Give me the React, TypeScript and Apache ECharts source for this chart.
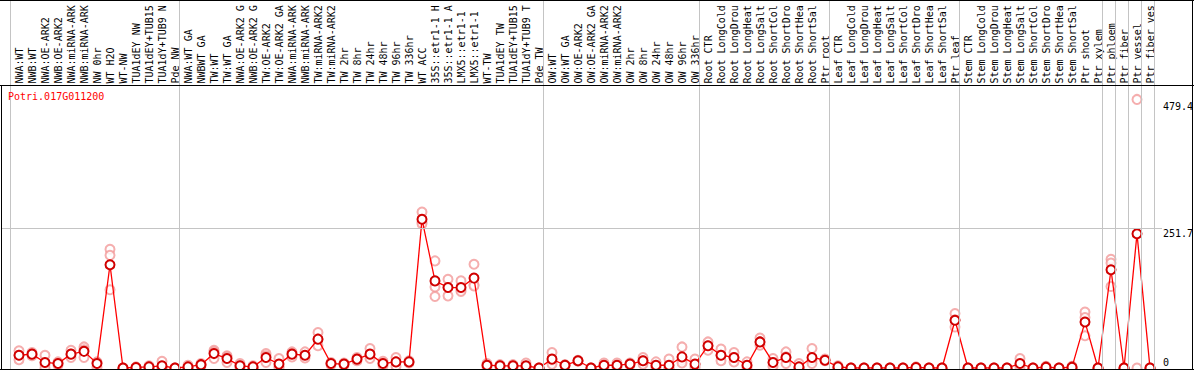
import React, { useEffect, useRef } from 'react';
import * as echarts from 'echarts';

const geneId = 'Potri.017G011200';

const categories = [
  'NWA:WT', 'NWB:WT', 'NWA:OE-ARK2', 'NWB:OE-ARK2', 'NWA:miRNA-ARK2', 'NWB:miRNA-ARK2', 'NW 0hr', 'WT H2O', 'WT-NW', 'TUA1dEY NW', 'TUA1dEY+TUB15 NW', 'TUA1dY+TUB9 NW', 'Pde NW',
  'NWA:WT GA', 'NWBWT GA', 'TW:WT', 'TW:WT GA', 'NWA:OE-ARK2 GA', 'NWB:OE-ARK2 GA', 'TW:OE-ARK2', 'TW:OE-ARK2 GA', 'NWA:miRNA-ARK2', 'NWB:miRNA-ARK2', 'TW:miRNA-ARK2', 'TW:miRNA-ARK2', 'TW 2hr', 'TW 8hr', 'TW 24hr', 'TW 48hr', 'TW 96hr', 'TW 336hr', 'WT ACC', '35S::etr1-1 H2O', '35S::etr1-1 ACC', 'LMX5::etr1-1 H2O', 'LMX5::etr1-1 ACC', 'WT-TW', 'TUA1dEY TW', 'TUA1dEY+TUB15 TW', 'TUA1dY+TUB9 TW', 'Pde TW',
  'OW:WT', 'OW:WT GA', 'OW:OE-ARK2', 'OW:OE-ARK2 GA', 'OW:miRNA-ARK2', 'OW:miRNA-ARK2', 'OW 2hr', 'OW 8hr', 'OW 24hr', 'OW 48hr', 'OW 96hr', 'OW 336hr',
  'Root CTR', 'Root LongCold', 'Root LongDrought', 'Root LongHeat', 'Root LongSalt', 'Root ShortCold', 'Root ShortDrought', 'Root ShortHeat', 'Root ShortSalt', 'Ptr root',
  'Leaf CTR', 'Leaf LongCold', 'Leaf LongDrought', 'Leaf LongHeat', 'Leaf LongSalt', 'Leaf ShortCold', 'Leaf ShortDrought', 'Leaf ShortHeat', 'Leaf ShortSalt', 'Ptr leaf',
  'Stem CTR', 'Stem LongCold', 'Stem LongDrought', 'Stem LongHeat', 'Stem LongSalt', 'Stem ShortCold', 'Stem ShortDrought', 'Stem ShortHeat', 'Stem ShortSalt', 'Ptr shoot', 'Ptr xylem',
  'Ptr phloem', 'Ptr fiber', 'Ptr vessel', 'Ptr fiber vessel',
];

// number of samples in each experiment block (separated by grey lines)
const groupSizes = [13, 28, 12, 10, 10, 11, 1, 1, 1, 1];

const means = [
  23, 25, 10, 8, 25, 30, 8, 186, 0, 1, 2, 4, 0,
  2, 6, 26, 17, 4, 2, 19, 7, 25, 23, 52, 8, 7, 16, 25, 8, 11, 11, 268, 157, 145, 145, 162, 5, 4, 4, 4, 0,
  16, 5, 13, 0, 5, 5, 7, 13, 5, 5, 20, 7,
  40, 23, 19, 5, 47, 10, 19, 2, 19, 14,
  2, 0, 0, 0, 0, 0, 1, 0, 0, 86,
  0, 0, 0, 0, 8, 0, 1.5, 0, 1.5, 83, 0,
  177, 0, 242, 0,
];

const rep1 = [
  31, 28, 23, 11, 32, 38, 11, 214, 0, 2, 4, 12, 0,
  5, 8, 32, 22, 8, 4, 26, 17, 29, 29, 64, 10, 9, 19, 35, 12, 19, 13, 281, 193, 160, 157, 187, 8, 6, 6, 9, 0,
  28, 6, 14, 0, 9, 9, 9, 19, 11, 16, 38, 16,
  47, 34, 28, 11, 54, 17, 29, 8, 35, 16,
  4, 0, 0, 0, 0, 0, 2, 0, 0, 98,
  0, 0, 0, 0, 17, 0, 3, 0, 3, 101, 0,
  196, 0, 484, 0,
];

const rep2 = [
  23, 25, 6, 8, 25, 33, 10, 203, 0, 1, 2, 0, 0,
  1, 6, 29, 20, 4, 2, 22, 3, 26, 22, 52, 8, 7, 16, 23, 8, 11, 11, 263, 146, 145, 141, 150, 5, 4, 4, 3, 0,
  13, 5, 13, 0, 4, 4, 7, 13, 3, 0, 14, 4,
  40, 23, 19, 4, 47, 10, 20, 0, 14, 14,
  2, 0, 0, 0, 0, 0, 1, 0, 0, 87,
  0, 0, 0, 0, 6, 0, 1, 0, 1, 91, 0,
  189, 0, 0, 0,
];

const rep3 = [
  15, 22, 0, 5, 19, 19, 2, 141, 0, 0, 0, 0, 0,
  0, 4, 17, 10, 0, 0, 10, 1, 20, 18, 40, 6, 5, 13, 17, 4, 3, 9, 260, 129, 130, 138, 148, 2, 2, 2, 0, 0,
  7, 4, 12, 0, 2, 2, 5, 7, 1, 0, 9, 1,
  32, 13, 11, 1, 41, 3, 8, 0, 8, 13,
  1, 0, 0, 0, 0, 0, 0, 0, 0, 74,
  0, 0, 0, 0, 2, 0, 0, 0, 0, 58, 0,
  147, 0, null, 0,
];

const yTickValues = [0, 251.7, 479.4];
const refLineValue = 251.7;
const yMax = 510;

const MONO = 'DejaVu Sans Mono';

export default function App() {
  const ref = useRef<HTMLDivElement>(null);

  useEffect(() => {
    if (!ref.current) return;
    const chart = echarts.init(ref.current, null, { renderer: 'svg' });

    const boundaries: number[] = [0];
    groupSizes.forEach((s) => boundaries.push(boundaries[boundaries.length - 1] + s));

    const repData: number[][] = [];
    [rep1, rep2, rep3].forEach((r) =>
      r.forEach((v, i) => {
        if (v !== null && v !== undefined) repData.push([i, v as number]);
      })
    );

    chart.setOption({
      animation: false,
      backgroundColor: '#ffffff',
      title: {
        text: geneId,
        left: 8,
        top: 91,
        padding: 0,
        textStyle: { color: '#ff0000', fontFamily: MONO, fontSize: 10, fontWeight: 'normal' },
      },
      grid: [
        { left: 12.5, right: 37.5, top: 85, bottom: 2, containLabel: false, outerBoundsMode: 'none' },
        { left: 10, right: 40, top: 0, bottom: 1, containLabel: false, outerBoundsMode: 'none' },
        { left: 1, right: 32, top: 85, bottom: 2, containLabel: false, outerBoundsMode: 'none' },
      ],
      xAxis: [
        {
          type: 'category',
          gridIndex: 0,
          data: categories,
          position: 'top',
          boundaryGap: true,
          axisLine: { show: false },
          axisTick: { show: false },
          splitLine: { show: false },
          axisLabel: {
            interval: 0,
            rotate: 90,
            margin: 1.5,
            align: 'left',
            verticalAlign: 'middle',
            width: 83,
            overflow: 'truncate',
            ellipsis: '',
            fontFamily: MONO,
            fontSize: 10,
            color: '#000',
          },
        },
        { type: 'value', gridIndex: 1, min: 0, max: categories.length, show: false },
        { type: 'value', gridIndex: 2, min: 0, max: 1, show: false },
      ],
      yAxis: [
        {
          type: 'value',
          gridIndex: 0,
          min: 0,
          max: yMax,
          position: 'right',
          axisLine: { show: false },
          axisTick: { show: false },
          splitLine: { show: false },
          axisLabel: {
            customValues: yTickValues,
            margin: 6.5,
            fontFamily: MONO,
            fontSize: 10,
            color: '#000',
            formatter: (v: number) => (v === 0 ? '{b|0}' : '{t|' + v + '}'),
            rich: {
              t: { padding: [10, 0, 0, 0], fontFamily: MONO, fontSize: 10, color: '#000' },
              b: { padding: [0, 0, 12, 0], fontFamily: MONO, fontSize: 10, color: '#000' },
            },
          },
        },
        { type: 'value', gridIndex: 1, min: 0, max: 1, show: false },
        { type: 'value', gridIndex: 2, min: 0, max: yMax, show: false },
      ],
      graphic: [
        { type: 'line', silent: true, z: 50, shape: { x1: 0, y1: 0.5, x2: 1194, y2: 0.5 }, style: { stroke: '#000', lineWidth: 1 } },
        { type: 'line', silent: true, z: 50, shape: { x1: 0, y1: 85.5, x2: 1194, y2: 85.5 }, style: { stroke: '#000', lineWidth: 1 } },
        { type: 'line', silent: true, z: 50, shape: { x1: 1.5, y1: 85, x2: 1.5, y2: 370 }, style: { stroke: '#000', lineWidth: 1 } },
        { type: 'line', silent: true, z: 50, shape: { x1: 1192.5, y1: 0, x2: 1192.5, y2: 370 }, style: { stroke: '#000', lineWidth: 1 } },
        { type: 'line', silent: true, z: 50, shape: { x1: 0, y1: 369.5, x2: 1194, y2: 369.5 }, style: { stroke: '#000', lineWidth: 1 } },
      ],
      series: [
        {
          type: 'line',
          xAxisIndex: 1,
          yAxisIndex: 1,
          data: [],
          silent: true,
          z: 0,
          markLine: {
            silent: true,
            symbol: ['none', 'none'],
            label: { show: false },
            emphasis: { disabled: true },
            lineStyle: { color: '#c4c4c4', width: 1, type: 'solid' },
            data: boundaries.map((b) => ({ xAxis: b })),
          },
        },
        {
          type: 'line',
          xAxisIndex: 2,
          yAxisIndex: 2,
          data: [],
          silent: true,
          z: 0,
          markLine: {
            silent: true,
            symbol: ['none', 'none'],
            label: { show: false },
            emphasis: { disabled: true },
            lineStyle: { color: '#c4c4c4', width: 1, type: 'solid' },
            data: [{ yAxis: refLineValue }],
          },
        },
        {
          name: 'replicates',
          type: 'scatter',
          xAxisIndex: 0,
          yAxisIndex: 0,
          data: repData,
          symbol: 'emptyCircle',
          symbolSize: 9,
          z: 2,
          silent: true,
          itemStyle: { color: '#f29a9a', borderColor: '#f29a9a', borderWidth: 1.5 },
        },
        {
          name: 'mean',
          type: 'line',
          xAxisIndex: 0,
          yAxisIndex: 0,
          data: means,
          symbol: 'emptyCircle',
          symbolSize: 9,
          showAllSymbol: true,
          z: 3,
          silent: true,
          lineStyle: { color: '#ff0000', width: 1.3 },
          itemStyle: { color: '#d00000', borderColor: '#d00000', borderWidth: 2 },
        },
      ],
    });

    return () => chart.dispose();
  }, []);

  return (
    <div
      ref={ref}
      style={{ position: 'fixed', left: 0, top: 0, width: 1194, height: 370, background: '#fff' }}
    />
  );
}
